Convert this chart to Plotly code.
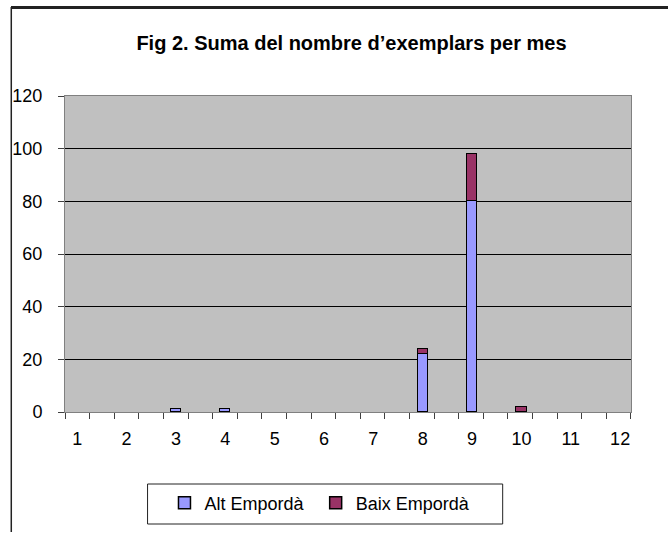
import plotly.graph_objects as go

months = [1, 2, 3, 4, 5, 6, 7, 8, 9, 10, 11, 12]
month_labels = ["1", "2", "3", "4", "5", "6", "7", "8", "9", "10", "11", "12"]
alt_emporda = [0, 0, 1, 1, 0, 0, 0, 22, 80, 0, 0, 0]
baix_emporda = [0, 0, 0, 0, 0, 0, 0, 2, 18, 2, 0, 0]

W, H = 668, 533
L, R, T, B = 62, 37, 96, 121
pw, ph = W - L - R, H - T - B

def px_x(x):
    return (x - L) / pw

def px_y(y):
    return (H - B - y) / ph

def nz(vals):
    return [v if v else None for v in vals]

FONT = "Liberation Sans, Arial, sans-serif"

fig = go.Figure()
fig.add_trace(go.Bar(x=months, y=nz(alt_emporda), name="Alt Empordà", legend="legend",
                     marker=dict(color="#9999FF", line=dict(color="black", width=1.5)),
                     width=0.21))
fig.add_trace(go.Bar(x=months, y=nz(baix_emporda), name="Baix Empordà", legend="legend2",
                     marker=dict(color="#993366", line=dict(color="black", width=1.5)),
                     width=0.21))

leg_common = dict(orientation="h", y=px_y(503), xanchor="left", yanchor="middle",
                  bgcolor="rgba(0,0,0,0)", borderwidth=0,
                  font=dict(family=FONT, size=18, color="black"), itemwidth=30)

fig.update_layout(
    width=W, height=H,
    margin=dict(l=L, r=R, t=T, b=B),
    barmode="stack",
    paper_bgcolor="white",
    plot_bgcolor="#C0C0C0",
    font=dict(family=FONT, size=18, color="black"),
    title=dict(text="<b>Fig 2. Suma del nombre d’exemplars per mes</b>",
               x=px_x(350), xref="paper", xanchor="center",
               y=1 - 43 / H, yanchor="middle",
               font=dict(family=FONT, size=20, color="black")),
    showlegend=True,
    legend=dict(x=px_x(162), **leg_common),
    legend2=dict(x=px_x(314), **leg_common),
    bargap=0,
)

fig.update_xaxes(
    range=[0.752, 12.22],
    tickmode="array", tickvals=months, ticktext=month_labels,
    ticks="", showgrid=False, zeroline=False,
    showline=True, linecolor="#808080", linewidth=1, mirror=True,
    ticklabelstandoff=10,
    tickfont=dict(family=FONT, size=18, color="black"),
    minor=dict(ticks="outside", tick0=0.752, dtick=0.4986, ticklen=6,
               tickcolor="#404040", tickwidth=1, showgrid=False),
)
fig.update_yaxes(
    range=[0, 120], tickmode="linear", tick0=0, dtick=20,
    ticks="outside", ticklen=6, tickcolor="#404040",
    showgrid=True, gridcolor="black", gridwidth=1, zeroline=False,
    showline=True, linecolor="#808080", linewidth=1, mirror=True,
    ticklabelstandoff=12,
    tickfont=dict(family=FONT, size=18, color="black"),
)

# outer chart frame (left and top edges)
fig.add_shape(type="line", xref="paper", yref="paper",
              x0=px_x(8), x1=px_x(8), y0=px_y(7), y1=px_y(532),
              line=dict(color="#222222", width=1.5))
fig.add_shape(type="line", xref="paper", yref="paper",
              x0=px_x(8), x1=px_x(667), y0=px_y(7), y1=px_y(7),
              line=dict(color="#222222", width=1.5))
# top edge again as a thin bordered annotation box (fallback)
fig.add_annotation(text="", xref="paper", yref="paper",
                   x=px_x(8), xanchor="left", y=px_y(7), yanchor="middle",
                   width=658, height=1, borderpad=0, borderwidth=1,
                   bordercolor="#222222", bgcolor="#222222", showarrow=False)
# legend box
fig.add_shape(type="rect", xref="paper", yref="paper",
              x0=px_x(145), x1=px_x(502), y0=px_y(484), y1=px_y(524),
              line=dict(color="#222222", width=1), fillcolor="rgba(0,0,0,0)")

fig.write_html("out.html", config={"displayModeBar": False},
               post_script="document.body.style.margin='0';")
